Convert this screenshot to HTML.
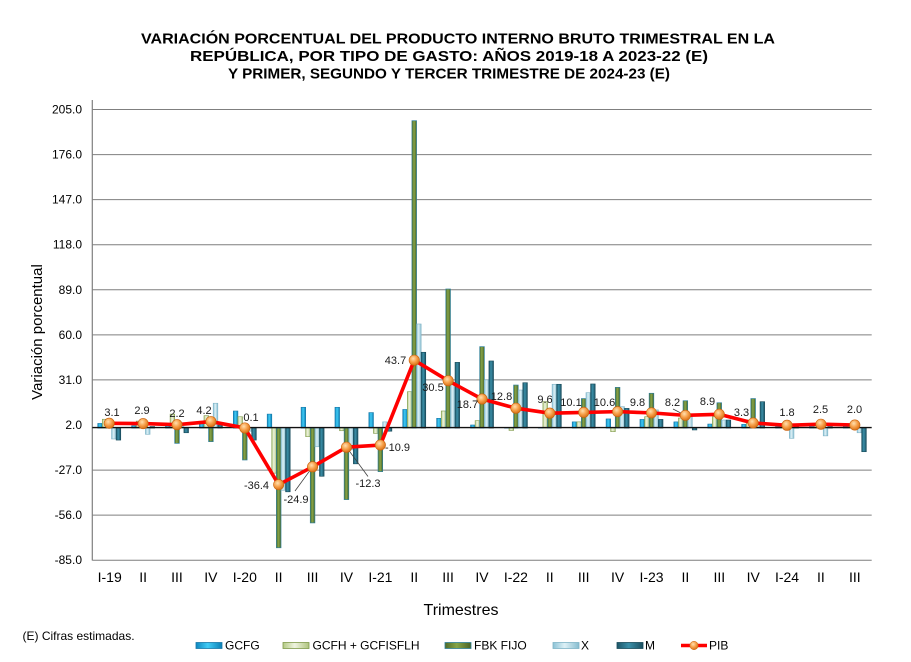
<!DOCTYPE html>
<html><head><meta charset="utf-8"><style>
html,body{margin:0;padding:0;background:#fff;}
svg{display:block;}
text{font-family:"Liberation Sans",Arial,sans-serif;}
</style></head><body>
<svg width="911" height="662" viewBox="0 0 911 662" xmlns="http://www.w3.org/2000/svg">
<defs>
<linearGradient id="gA" x1="0" x2="1" y1="0" y2="0"><stop offset="0" stop-color="#0E86BE"/><stop offset="0.45" stop-color="#40CBF5"/><stop offset="1" stop-color="#0A7FB5"/></linearGradient>
<linearGradient id="gB" x1="0" x2="1" y1="0" y2="0"><stop offset="0" stop-color="#B5CB85"/><stop offset="0.45" stop-color="#EEF3DF"/><stop offset="1" stop-color="#AFC47E"/></linearGradient>
<linearGradient id="gC" x1="0" x2="1" y1="0" y2="0"><stop offset="0" stop-color="#4F6A28"/><stop offset="0.45" stop-color="#86A548"/><stop offset="1" stop-color="#4A6326"/></linearGradient>
<linearGradient id="gD" x1="0" x2="1" y1="0" y2="0"><stop offset="0" stop-color="#8CC3D6"/><stop offset="0.45" stop-color="#DDF0F6"/><stop offset="1" stop-color="#86BDD0"/></linearGradient>
<linearGradient id="gE" x1="0" x2="1" y1="0" y2="0"><stop offset="0" stop-color="#1D5566"/><stop offset="0.45" stop-color="#3A8FA8"/><stop offset="1" stop-color="#1B4F60"/></linearGradient>
<radialGradient id="gM" cx="0.4" cy="0.35" r="0.7"><stop offset="0" stop-color="#FFE0B0"/><stop offset="0.5" stop-color="#F7A04A"/><stop offset="1" stop-color="#D2690F"/></radialGradient>
</defs>
<rect width="911" height="662" fill="#fff"/>

<!-- Title -->
<g font-weight="bold" font-size="15" fill="#000" text-anchor="middle">
<text x="458" y="43.5" textLength="634" lengthAdjust="spacingAndGlyphs">VARIACIÓN PORCENTUAL DEL PRODUCTO INTERNO BRUTO TRIMESTRAL  EN LA</text>
<text x="449" y="61" textLength="518" lengthAdjust="spacingAndGlyphs">REPÚBLICA, POR TIPO  DE GASTO: AÑOS 2019-18 A 2023-22 (E)</text>
<text x="449" y="78.5" textLength="442" lengthAdjust="spacingAndGlyphs">Y PRIMER, SEGUNDO Y TERCER TRIMESTRE DE 2024-23 (E)</text>
</g>

<!-- gridlines -->
<g stroke="#7F7F7F" stroke-width="1">
<line x1="92.3" x2="871.7" y1="109.5" y2="109.5"/>
<line x1="92.3" x2="871.7" y1="154.6" y2="154.6"/>
<line x1="92.3" x2="871.7" y1="199.6" y2="199.6"/>
<line x1="92.3" x2="871.7" y1="244.7" y2="244.7"/>
<line x1="92.3" x2="871.7" y1="289.8" y2="289.8"/>
<line x1="92.3" x2="871.7" y1="334.9" y2="334.9"/>
<line x1="92.3" x2="871.7" y1="379.9" y2="379.9"/>
<line x1="92.3" x2="871.7" y1="470.1" y2="470.1"/>
<line x1="92.3" x2="871.7" y1="515.1" y2="515.1"/>
<line x1="92.3" x2="871.7" y1="560.2" y2="560.2"/>
</g>
<line x1="92.3" x2="92.3" y1="100" y2="560.5" stroke="#7F7F7F" stroke-width="1.2"/>

<!-- y tick labels -->
<g font-size="12" fill="#000" text-anchor="end">
<text x="82" y="113.5">205.0</text>
<text x="82" y="158.6">176.0</text>
<text x="82" y="203.6">147.0</text>
<text x="82" y="248.7">118.0</text>
<text x="82" y="293.8">89.0</text>
<text x="82" y="338.9">60.0</text>
<text x="82" y="383.9">31.0</text>
<text x="82" y="429">2.0</text>
<text x="82" y="474.1">-27.0</text>
<text x="82" y="519.1">-56.0</text>
<text x="82" y="564.2">-85.0</text>
</g>

<text x="42" y="332" font-size="15" fill="#000" text-anchor="middle" transform="rotate(-90 42 332)">Variación porcentual</text>

<!-- Bars: GCFG -->
<g fill="url(#gA)" stroke="#1878A8" stroke-width="0.6">
<rect x="97.75" y="423.44" width="4.6" height="4.66"/>
<rect x="131.63" y="425.77" width="4.6" height="2.33"/>
<rect x="165.52" y="424.99" width="4.6" height="3.11"/>
<rect x="199.41" y="423.44" width="4.6" height="4.66"/>
<rect x="233.3" y="411.0" width="4.6" height="17.1"/>
<rect x="267.19" y="414.11" width="4.6" height="13.99"/>
<rect x="301.08" y="407.28" width="4.6" height="20.82"/>
<rect x="334.97" y="407.28" width="4.6" height="20.82"/>
<rect x="368.86" y="412.56" width="4.6" height="15.54"/>
<rect x="402.75" y="409.45" width="4.6" height="18.65"/>
<rect x="436.64" y="418.31" width="4.6" height="9.79"/>
<rect x="470.53" y="424.99" width="4.6" height="3.11"/>
<rect x="504.42" y="427.32" width="4.6" height="0.78"/>
<rect x="538.31" y="427.32" width="4.6" height="0.78"/>
<rect x="572.2" y="421.88" width="4.6" height="6.22"/>
<rect x="606.09" y="418.93" width="4.6" height="9.17"/>
<rect x="639.98" y="419.4" width="4.6" height="8.7"/>
<rect x="673.87" y="421.88" width="4.6" height="6.22"/>
<rect x="707.76" y="424.06" width="4.6" height="4.04"/>
<rect x="741.65" y="424.37" width="4.6" height="3.73"/>
<rect x="775.54" y="426.55" width="4.6" height="1.55"/>
<rect x="809.43" y="426.55" width="4.6" height="1.55"/>
<rect x="843.32" y="426.55" width="4.6" height="1.55"/>
</g>
<!-- GCFH -->
<g fill="url(#gB)" stroke="#7F9A4A" stroke-width="0.6">
<rect x="102.35" y="419.24" width="4.6" height="8.86"/>
<rect x="136.23" y="421.11" width="4.6" height="6.99"/>
<rect x="170.12" y="414.11" width="4.6" height="13.99"/>
<rect x="204.01" y="415.67" width="4.6" height="12.43"/>
<rect x="237.9" y="416.75" width="4.6" height="11.35"/>
<rect x="271.79" y="428.1" width="4.6" height="45.07"/>
<rect x="305.68" y="428.1" width="4.6" height="8.55"/>
<rect x="339.57" y="428.1" width="4.6" height="2.64"/>
<rect x="373.46" y="428.1" width="4.6" height="5.28"/>
<rect x="407.35" y="391.73" width="4.6" height="36.37"/>
<rect x="441.24" y="411.0" width="4.6" height="17.1"/>
<rect x="475.13" y="420.64" width="4.6" height="7.46"/>
<rect x="509.02" y="428.1" width="4.6" height="2.33"/>
<rect x="542.91" y="401.68" width="4.6" height="26.42"/>
<rect x="576.8" y="421.88" width="4.6" height="6.22"/>
<rect x="610.69" y="428.1" width="4.6" height="3.57"/>
<rect x="644.58" y="416.75" width="4.6" height="11.35"/>
<rect x="678.47" y="418.0" width="4.6" height="10.1"/>
<rect x="712.36" y="416.75" width="4.6" height="11.35"/>
<rect x="746.25" y="420.02" width="4.6" height="8.08"/>
<rect x="780.14" y="426.55" width="4.6" height="1.55"/>
<rect x="814.03" y="423.44" width="4.6" height="4.66"/>
<rect x="847.92" y="426.55" width="4.6" height="1.55"/>
</g>
<!-- FBK FIJO -->
<g fill="url(#gC)" stroke="#2F7F98" stroke-width="0.7">
<rect x="106.95" y="424.99" width="4.6" height="3.11"/>
<rect x="140.83" y="424.99" width="4.6" height="3.11"/>
<rect x="174.72" y="428.1" width="4.6" height="15.23"/>
<rect x="208.61" y="428.1" width="4.6" height="13.52"/>
<rect x="242.5" y="428.1" width="4.6" height="31.86"/>
<rect x="276.39" y="428.1" width="4.6" height="119.67"/>
<rect x="310.28" y="428.1" width="4.6" height="94.8"/>
<rect x="344.17" y="428.1" width="4.6" height="71.49"/>
<rect x="378.06" y="428.1" width="4.6" height="43.51"/>
<rect x="411.95" y="120.7" width="4.6" height="307.4"/>
<rect x="445.84" y="289.01" width="4.6" height="139.09"/>
<rect x="479.73" y="346.67" width="4.6" height="81.43"/>
<rect x="513.62" y="385.05" width="4.6" height="43.05"/>
<rect x="547.51" y="412.56" width="4.6" height="15.54"/>
<rect x="581.4" y="398.57" width="4.6" height="29.53"/>
<rect x="615.29" y="387.38" width="4.6" height="40.72"/>
<rect x="649.18" y="393.29" width="4.6" height="34.81"/>
<rect x="683.07" y="400.75" width="4.6" height="27.35"/>
<rect x="716.96" y="402.77" width="4.6" height="25.33"/>
<rect x="750.85" y="398.57" width="4.6" height="29.53"/>
<rect x="784.74" y="426.55" width="4.6" height="1.55"/>
<rect x="818.63" y="426.55" width="4.6" height="1.55"/>
<rect x="852.52" y="426.55" width="4.6" height="1.55"/>
</g>
<!-- X -->
<g fill="url(#gD)" stroke="#7FB3C6" stroke-width="0.6">
<rect x="111.55" y="428.1" width="4.6" height="10.88"/>
<rect x="145.43" y="428.1" width="4.6" height="6.22"/>
<rect x="179.32" y="426.55" width="4.6" height="1.55"/>
<rect x="213.21" y="403.23" width="4.6" height="24.87"/>
<rect x="247.1" y="428.1" width="4.6" height="3.11"/>
<rect x="280.99" y="428.1" width="4.6" height="62.16"/>
<rect x="314.88" y="428.1" width="4.6" height="18.65"/>
<rect x="348.77" y="428.1" width="4.6" height="21.76"/>
<rect x="382.66" y="421.88" width="4.6" height="6.22"/>
<rect x="416.55" y="323.98" width="4.6" height="104.12"/>
<rect x="450.44" y="384.59" width="4.6" height="43.51"/>
<rect x="484.33" y="379.92" width="4.6" height="48.18"/>
<rect x="518.22" y="390.02" width="4.6" height="38.08"/>
<rect x="552.11" y="384.27" width="4.6" height="43.83"/>
<rect x="586.0" y="392.67" width="4.6" height="35.43"/>
<rect x="619.89" y="406.65" width="4.6" height="21.45"/>
<rect x="653.78" y="409.92" width="4.6" height="18.18"/>
<rect x="687.67" y="416.75" width="4.6" height="11.35"/>
<rect x="721.56" y="420.02" width="4.6" height="8.08"/>
<rect x="755.45" y="423.44" width="4.6" height="4.66"/>
<rect x="789.34" y="428.1" width="4.6" height="10.26"/>
<rect x="823.23" y="428.1" width="4.6" height="7.77"/>
<rect x="857.12" y="428.1" width="4.6" height="4.66"/>
</g>
<!-- M -->
<g fill="url(#gE)" stroke="#184B5B" stroke-width="0.6">
<rect x="116.15" y="428.1" width="4.6" height="11.97"/>
<rect x="150.03" y="426.55" width="4.6" height="1.55"/>
<rect x="183.92" y="428.1" width="4.6" height="4.66"/>
<rect x="217.81" y="424.99" width="4.6" height="3.11"/>
<rect x="251.7" y="428.1" width="4.6" height="11.97"/>
<rect x="285.59" y="428.1" width="4.6" height="63.72"/>
<rect x="319.48" y="428.1" width="4.6" height="48.18"/>
<rect x="353.37" y="428.1" width="4.6" height="35.74"/>
<rect x="387.26" y="428.1" width="4.6" height="3.11"/>
<rect x="421.15" y="352.26" width="4.6" height="75.84"/>
<rect x="455.04" y="362.36" width="4.6" height="65.74"/>
<rect x="488.93" y="360.96" width="4.6" height="67.14"/>
<rect x="522.82" y="382.72" width="4.6" height="45.38"/>
<rect x="556.71" y="384.27" width="4.6" height="43.83"/>
<rect x="590.6" y="383.96" width="4.6" height="44.14"/>
<rect x="624.49" y="408.36" width="4.6" height="19.74"/>
<rect x="658.38" y="419.4" width="4.6" height="8.7"/>
<rect x="692.27" y="428.1" width="4.6" height="1.86"/>
<rect x="726.16" y="420.02" width="4.6" height="8.08"/>
<rect x="760.05" y="401.68" width="4.6" height="26.42"/>
<rect x="793.94" y="426.55" width="4.6" height="1.55"/>
<rect x="827.83" y="426.55" width="4.6" height="1.55"/>
<rect x="861.72" y="428.1" width="4.6" height="23.62"/>
</g>

<!-- zero axis -->
<line x1="92.3" x2="871.7" y1="427.6" y2="427.6" stroke="#111" stroke-width="1.4"/>

<!-- leader lines -->
<g stroke="#404040" stroke-width="0.8">
<line x1="312.6" y1="466.8" x2="295" y2="491"/>
<line x1="346.5" y1="447.2" x2="368" y2="476.5"/>
<line x1="685.4" y1="415.4" x2="673" y2="409"/>
</g>

<!-- PIB line -->
<polyline fill="none" stroke="#FF0000" stroke-width="3.6" stroke-linejoin="round" points="109.25,423.28 143.13,423.59 177.02,424.68 210.91,421.57 244.8,427.94 278.69,484.67 312.58,466.8 346.47,447.21 380.36,445.04 414.25,360.19 448.14,380.7 482.03,399.04 515.92,408.21 549.81,413.18 583.7,412.4 617.59,411.63 651.48,412.87 685.37,415.36 719.26,414.27 753.15,422.97 787.04,425.3 820.93,424.21 854.82,425.0"/>
<g fill="url(#gM)" stroke="#C8620E" stroke-width="0.6">
<circle cx="109.25" cy="423.28" r="5.2"/>
<circle cx="143.13" cy="423.59" r="5.2"/>
<circle cx="177.02" cy="424.68" r="5.2"/>
<circle cx="210.91" cy="421.57" r="5.2"/>
<circle cx="244.8" cy="427.94" r="5.2"/>
<circle cx="278.69" cy="484.67" r="5.2"/>
<circle cx="312.58" cy="466.8" r="5.2"/>
<circle cx="346.47" cy="447.21" r="5.2"/>
<circle cx="380.36" cy="445.04" r="5.2"/>
<circle cx="414.25" cy="360.19" r="5.2"/>
<circle cx="448.14" cy="380.7" r="5.2"/>
<circle cx="482.03" cy="399.04" r="5.2"/>
<circle cx="515.92" cy="408.21" r="5.2"/>
<circle cx="549.81" cy="413.18" r="5.2"/>
<circle cx="583.7" cy="412.4" r="5.2"/>
<circle cx="617.59" cy="411.63" r="5.2"/>
<circle cx="651.48" cy="412.87" r="5.2"/>
<circle cx="685.37" cy="415.36" r="5.2"/>
<circle cx="719.26" cy="414.27" r="5.2"/>
<circle cx="753.15" cy="422.97" r="5.2"/>
<circle cx="787.04" cy="425.3" r="5.2"/>
<circle cx="820.93" cy="424.21" r="5.2"/>
<circle cx="854.82" cy="425.0" r="5.2"/>
</g>

<!-- PIB data labels -->
<g font-size="11" fill="#1a1a1a" text-anchor="middle">
<text x="112" y="416">3.1</text>
<text x="142" y="414">2.9</text>
<text x="177" y="417">2.2</text>
<text x="204" y="414">4.2</text>
<text x="251" y="421">0.1</text>
<text x="256.5" y="489">-36.4</text>
<text x="296" y="503">-24.9</text>
<text x="368" y="487">-12.3</text>
<text x="397.5" y="451">-10.9</text>
<text x="395.5" y="364">43.7</text>
<text x="433" y="391">30.5</text>
<text x="467.5" y="408">18.7</text>
<text x="501.5" y="400">12.8</text>
<text x="545" y="403">9.6</text>
<text x="571" y="406">10.1</text>
<text x="604.5" y="406">10.6</text>
<text x="637.5" y="406">9.8</text>
<text x="672.5" y="406">8.2</text>
<text x="707.5" y="405">8.9</text>
<text x="741.5" y="416">3.3</text>
<text x="787" y="416">1.8</text>
<text x="820.5" y="413">2.5</text>
<text x="854.5" y="413">2.0</text>
</g>

<!-- x category labels -->
<g font-size="14" fill="#000" text-anchor="middle">
<text x="109.7" y="582">I-19</text>
<text x="143.1" y="582">II</text>
<text x="177" y="582">III</text>
<text x="210.9" y="582">IV</text>
<text x="244.8" y="582">I-20</text>
<text x="278.7" y="582">II</text>
<text x="312.6" y="582">III</text>
<text x="346.5" y="582">IV</text>
<text x="380.4" y="582">I-21</text>
<text x="414.3" y="582">II</text>
<text x="448.1" y="582">III</text>
<text x="482" y="582">IV</text>
<text x="515.9" y="582">I-22</text>
<text x="549.8" y="582">II</text>
<text x="583.7" y="582">III</text>
<text x="617.6" y="582">IV</text>
<text x="651.5" y="582">I-23</text>
<text x="685.4" y="582">II</text>
<text x="719.3" y="582">III</text>
<text x="753.2" y="582">IV</text>
<text x="787" y="582">I-24</text>
<text x="820.9" y="582">II</text>
<text x="854.8" y="582">III</text>
</g>

<text x="461" y="615" font-size="16" fill="#000" text-anchor="middle">Trimestres</text>
<text x="22.5" y="640" font-size="12" fill="#000">(E) Cifras estimadas.</text>

<!-- legend -->
<g font-size="12" fill="#000">
<rect x="196" y="642.5" width="26" height="6" fill="url(#gA)" stroke="#1878A8" stroke-width="0.8"/>
<text x="225" y="649.5">GCFG</text>
<rect x="283" y="642.5" width="26" height="6" fill="url(#gB)" stroke="#7F9A4A" stroke-width="0.8"/>
<text x="312.5" y="649.5">GCFH + GCFISFLH</text>
<rect x="445" y="642.5" width="26" height="6" fill="url(#gC)" stroke="#2F7F98" stroke-width="0.8"/>
<text x="474" y="649.5">FBK FIJO</text>
<rect x="553" y="642.5" width="26" height="6" fill="url(#gD)" stroke="#7FB3C6" stroke-width="0.8"/>
<text x="581" y="649.5">X</text>
<rect x="617" y="642.5" width="26" height="6" fill="url(#gE)" stroke="#184B5B" stroke-width="0.8"/>
<text x="645" y="649.5">M</text>
<line x1="681" x2="707" y1="645.5" y2="645.5" stroke="#FF0000" stroke-width="3.4"/>
<circle cx="694" cy="645.5" r="4.2" fill="url(#gM)" stroke="#C8620E" stroke-width="0.5"/>
<text x="709" y="649.5">PIB</text>
</g>
</svg>
</body></html>
